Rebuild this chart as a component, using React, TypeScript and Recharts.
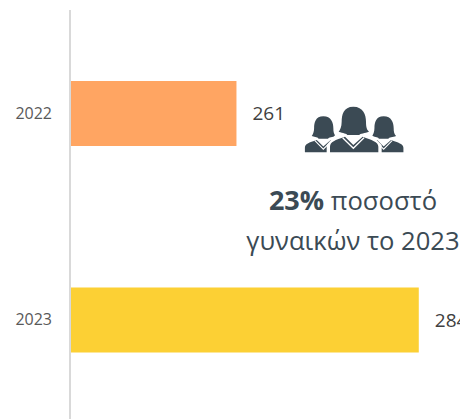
import { Bar, BarChart, Cell, LabelList, XAxis, YAxis } from "recharts";

const YEARS = ["2022", "2023"];
const VALUES = [261, 284];
const COLORS = ["#FFA562", "#FCD034"];
const AXIS_DOMAIN = [240, 289.2];

const data = YEARS.map((year, i) => ({ year, value: VALUES[i] }));

const INK = "#3B4A54";
const FONT = "'Open Sans', sans-serif";

function Woman({ x, y, s }: { x: number; y: number; s: number }) {
  return (
    <g transform={`translate(${x} ${y}) scale(${s})`}>
      <path
        fill={INK}
        d="M0 -137 C-30 -137 -35 -112 -35 -92 C-35 -77 -40 -67 -44 -62 C-30 -57 -20 -57 -18 -52 L18 -52 C20 -57 35 -57 47 -62 C40 -69 38 -77 38 -92 C38 -112 30 -137 0 -137Z"
      />
      <path
        fill={INK}
        d="M-70 0 L-70 -17 C-70 -32 -55 -37 -25 -47 L0 -22 L28 -47 C55 -37 75 -32 75 -17 L75 0Z"
      />
      <path fill="none" stroke="#fff" strokeWidth={4} d="M-32 -44 L0 -12 L32 -44" />
    </g>
  );
}

function PeopleIcon() {
  return (
    <svg
      width={130}
      height={75}
      viewBox="0 0 390 225"
      style={{ position: "absolute", left: 290, top: 90 }}
    >
      <Woman x={100} y={187} s={0.79} />
      <Woman x={281} y={187} s={0.79} />
      <path fill="#fff" d="M110 190 L110 165 L140 130 L240 130 L275 165 L275 190Z" />
      <Woman x={190} y={187} s={1} />
    </svg>
  );
}

export default function App() {
  return (
    <div style={{ position: "absolute", left: 0, top: 0, width: 460, height: 419, overflow: "hidden", background: "#fff" }}>
      <BarChart
        width={460}
        height={423}
        data={data}
        layout="vertical"
        margin={{ top: 10, right: 0, bottom: 0, left: 0 }}
        barCategoryGap={0}
      >
        <XAxis type="number" hide domain={AXIS_DOMAIN} allowDataOverflow />
        <YAxis
          type="category"
          dataKey="year"
          width={70}
          tickLine={false}
          tickSize={0}
          tickMargin={18}
          axisLine={{ stroke: "#D9D9D9", strokeWidth: 2 }}
          tick={{ fontSize: 16, fill: "#595959", fontFamily: FONT }}
        />
        <Bar dataKey="value" barSize={65} isAnimationActive={false}>
          {data.map((d, i) => (
            <Cell key={d.year} fill={COLORS[i]} />
          ))}
          <LabelList
            dataKey="value"
            position="right"
            offset={16}
            style={{ fontSize: 19, fill: "#404040", fontFamily: FONT }}
          />
        </Bar>
      </BarChart>
      <PeopleIcon />
      <div
        style={{
          position: "absolute",
          left: 240,
          width: 226,
          top: 180,
          textAlign: "center",
          fontFamily: FONT,
          fontSize: 25.6,
          lineHeight: "40px",
          color: INK,
        }}
      >
        <div><b style={{ fontSize: 27 }}>23%</b> ποσοστό</div>
        <div style={{ whiteSpace: "nowrap" }}>γυναικών το 2023</div>
      </div>
    </div>
  );
}
